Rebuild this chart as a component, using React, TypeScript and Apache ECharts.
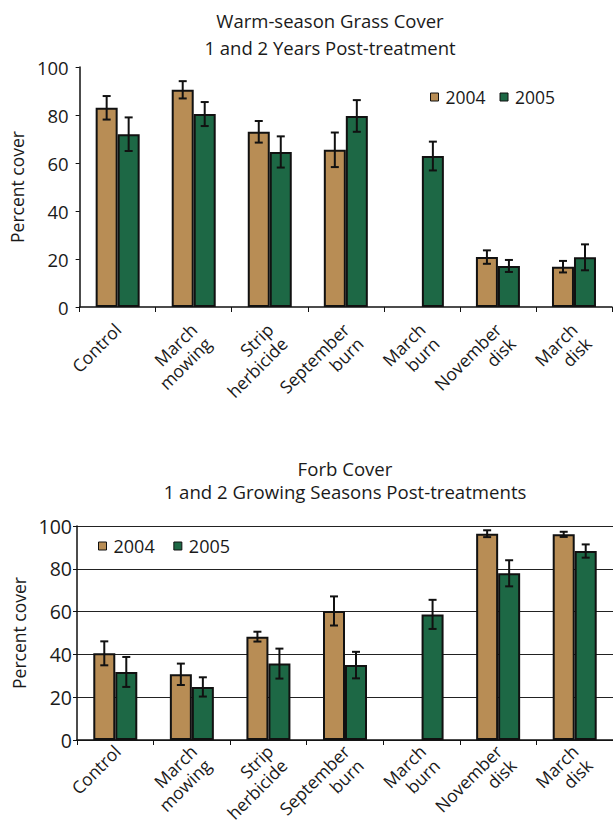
import React, { useEffect, useRef } from "react";
import * as echarts from "echarts";

const categories = [
  "Control",
  "March\nmowing",
  "Strip\nherbicide",
  "September\nburn",
  "March\nburn",
  "November\ndisk",
  "March\ndisk",
];
const years = ["2004", "2005"];
const yTicks = [0, 20, 40, 60, 80, 100];

const grass2004 = [83, 90.5, 73, 65.5, null, 20.8, 16.8];
const grass2004Err = [4.9, 3.6, 4.5, 7.2, null, 2.8, 2.4];
const grass2005 = [72, 80.4, 64.6, 79.6, 62.9, 17.1, 20.7];
const grass2005Err = [7, 5, 6.5, 6.6, 6, 2.5, 5.4];

const forb2004 = [40.5, 30.7, 48.3, 60.3, null, 96.4, 96.1];
const forb2004Err = [5.6, 5, 2.3, 6.8, null, 1.6, 1.2];
const forb2005 = [31.8, 24.8, 35.7, 35, 58.7, 77.9, 88.3];
const forb2005Err = [7, 4.5, 7, 6.2, 6.8, 6.1, 3.1];

const FONT = "Open Sans";
const TXT = "#1a1a1a";
const TAN = "#B88D55";
const GREEN = "#1D6845";
const BORDER = "#111";
const BAR_W = 22;

function errData(vals: (number | null)[], errs: (number | null)[]) {
  const out: number[][] = [];
  vals.forEach((v, i) => {
    if (v != null && errs[i] != null) out.push([i, v, errs[i] as number]);
  });
  return out;
}

function errSeries(vals: (number | null)[], errs: (number | null)[], offset: number, gi: number) {
  return {
    type: "custom",
    xAxisIndex: gi,
    yAxisIndex: gi,
    z: 10,
    silent: true,
    encode: { x: 0, y: 1 },
    data: errData(vals, errs),
    renderItem: (params: any, api: any) => {
      const idx = api.value(0);
      const v = api.value(1);
      const e = api.value(2);
      const top = api.coord([idx, v + e]);
      const bot = api.coord([idx, v - e]);
      const x = top[0] + offset;
      const st = { stroke: BORDER, lineWidth: 2 };
      return {
        type: "group",
        children: [
          { type: "line", shape: { x1: x, y1: top[1], x2: x, y2: bot[1] }, style: st },
          { type: "line", shape: { x1: x - 4, y1: top[1], x2: x + 4, y2: top[1] }, style: st },
          { type: "line", shape: { x1: x - 4, y1: bot[1], x2: x + 4, y2: bot[1] }, style: st },
        ],
      };
    },
  };
}

function barSeries(name: string, data: (number | null)[], color: string, gi: number) {
  return {
    type: "bar",
    name,
    xAxisIndex: gi,
    yAxisIndex: gi,
    barWidth: BAR_W,
    barGap: "0%",
    data: data.map((v) => (v == null ? "-" : v)),
    itemStyle: { color, borderColor: BORDER, borderWidth: 2 },
  };
}

export default function App() {
  const ref = useRef<HTMLDivElement>(null);
  useEffect(() => {
    if (!ref.current) return;
    const chart = echarts.init(ref.current, null, { renderer: "svg" });
    const labelStyle = (fs: number) => ({
      interval: 0,
      rotate: 45,
      align: "right",
      verticalAlign: "top",
      margin: 5,
      padding: [0, 10, 0, 0],
      fontFamily: FONT,
      fontSize: fs,
      lineHeight: 20,
      color: TXT,
    });
    const xAxisBase = (gi: number, fs: number, showLabel: boolean) => ({
      type: "category",
      gridIndex: gi,
      data: categories,
      axisLine: { lineStyle: { color: BORDER, width: 1.5 } },
      axisTick: { show: true, length: 5, lineStyle: { color: BORDER, width: 1 } },
      axisLabel: { ...labelStyle(fs), show: showLabel },
    });
    const yAxisBase = (gi: number, fs: number, gap: number, margin: number, grid: boolean) => ({
      type: "value",
      gridIndex: gi,
      min: yTicks[0],
      max: yTicks[yTicks.length - 1],
      interval: 20,
      name: "Percent cover",
      nameLocation: "middle",
      nameGap: gap,
      nameTextStyle: { fontFamily: FONT, fontSize: 17.5, color: TXT },
      axisLine: { show: true, lineStyle: { color: BORDER, width: 1.5 } },
      axisTick: { show: true, length: 4, lineStyle: { color: BORDER } },
      axisLabel: { fontFamily: FONT, fontSize: fs, color: TXT, margin },
      splitLine: { show: grid, lineStyle: { color: "#222", width: 1 } },
    });
    const legendBase = (gi: number, left: number, top: number, fs: number) => ({
      left,
      top,
      padding: 0,
      itemWidth: 8,
      itemHeight: 8,
      itemGap: 14,
      icon: "rect",
      data: years.map((y) => ({ name: y + (gi === 1 ? " " : "") })),
      textStyle: { fontFamily: FONT, fontSize: fs, color: TXT, padding: [0, 0, 0, 2], lineHeight: 20 },
      itemStyle: { borderColor: BORDER, borderWidth: 1 },
    });
    const title = (text: string, x: number, y: number, fs: number, lh: number) => ({
      type: "text",
      x,
      y,
      style: {
        text,
        font: `${fs}px '${FONT}'`,
        lineHeight: lh,
        fill: TXT,
        textAlign: "center",
        textVerticalAlign: "middle",
      },
    });
    chart.setOption({
      animation: false,
      backgroundColor: "#ffffff",
      textStyle: { fontFamily: FONT },
      graphic: [
        title("Warm-season Grass Cover\n1 and 2 Years Post-treatment", 330, 33.5, 18.5, 27),
        title("Forb Cover\n1 and 2 Growing Seasons Post-treatments", 345, 479.5, 18.6, 23),
      ],
      grid: [
        { left: 72, top: 67, width: 540, height: 240, containLabel: false },
        { left: 77, top: 526, width: 541, height: 214, containLabel: false },
        // label-only layer for the lower chart's category names (slightly wider spread, as in the original)
        { left: 79, top: 526, width: 556, height: 214, containLabel: false },
      ],
      legend: [legendBase(0, 430, 87, 17.5), legendBase(1, 98, 536, 18)],
      xAxis: [
        xAxisBase(0, 17.5, true),
        xAxisBase(1, 17.5, false),
        {
          type: "category",
          gridIndex: 2,
          data: categories,
          axisLine: { show: false },
          axisTick: { show: false },
          splitLine: { show: false },
          axisLabel: labelStyle(17.5),
        },
      ],
      yAxis: [
        yAxisBase(0, 18.5, 28, 11, false),
        yAxisBase(1, 19.5, 21, 5, true),
        { type: "value", gridIndex: 2, min: 0, max: 100, show: false },
      ],
      series: [
        barSeries("2004", grass2004, TAN, 0),
        barSeries("2005", grass2005, GREEN, 0),
        errSeries(grass2004, grass2004Err, -BAR_W / 2, 0),
        errSeries(grass2005, grass2005Err, BAR_W / 2, 0),
        barSeries("2004 ", forb2004, TAN, 1),
        barSeries("2005 ", forb2005, GREEN, 1),
        errSeries(forb2004, forb2004Err, -BAR_W / 2, 1),
        errSeries(forb2005, forb2005Err, BAR_W / 2, 1),
      ],
    });
    return () => chart.dispose();
  }, []);
  return (
    <div
      ref={ref}
      style={{ position: "absolute", left: 0, top: 0, width: 613, height: 835, overflow: "hidden" }}
    />
  );
}
